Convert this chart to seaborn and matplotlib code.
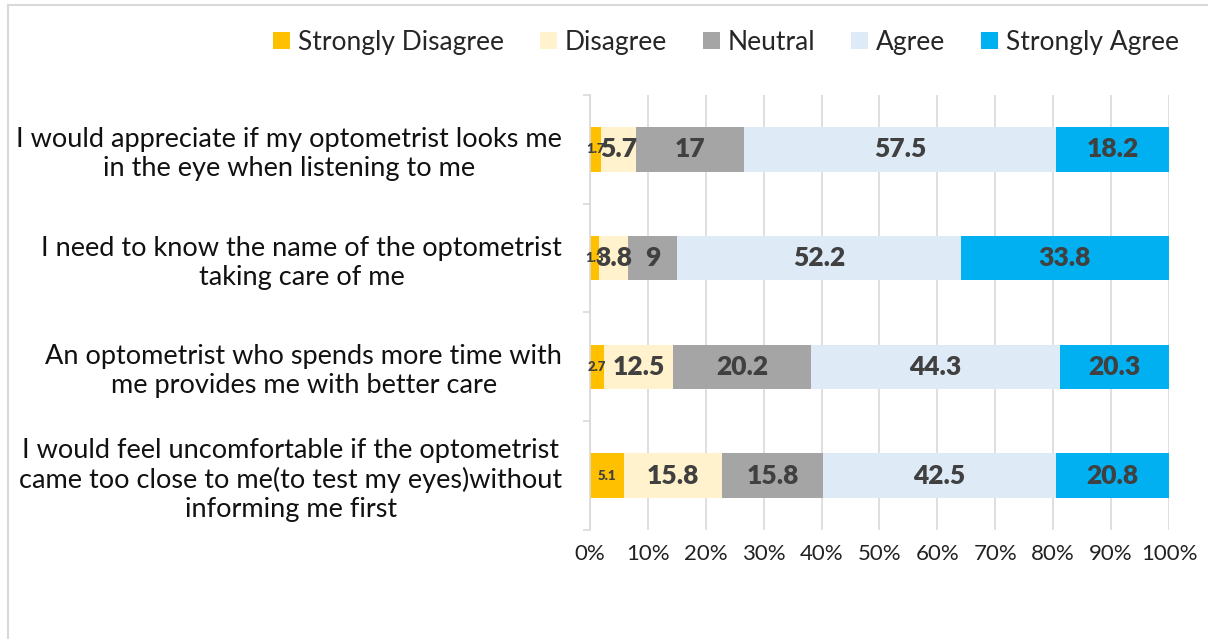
import matplotlib
matplotlib.use("Agg")
import matplotlib.pyplot as plt
from matplotlib.patches import Patch
from matplotlib.lines import Line2D
import numpy as np
import pandas as pd
import seaborn as sns

questions = [
    "I would appreciate if my optometrist looks me\nin the eye when listening to me",
    "I need to know the name of the optometrist\ntaking care of me",
    "An optometrist who spends more time with\nme provides me with better care",
    "I would feel uncomfortable if the optometrist\ncame too close to me(to test my eyes)without\ninforming me first",
]
levels = ["Strongly Disagree", "Disagree", "Neutral", "Agree", "Strongly Agree"]

# segment shares as drawn
strongly_disagree = [1.85, 1.5, 2.4, 5.8]
disagree = [6.15, 5.1, 12.0, 17.05]
neutral = [18.6, 8.5, 23.8, 17.4]
agree = [53.9, 48.9, 43.1, 40.25]
strongly_agree = [19.5, 36.0, 18.8, 19.5]

# data labels as printed on the bars
label_sd = ["1.7", "1.3", "2.7", "5.1"]
label_d = ["5.7", "3.8", "12.5", "15.8"]
label_n = ["17", "9", "20.2", "15.8"]
label_a = ["57.5", "52.2", "44.3", "42.5"]
label_sa = ["18.2", "33.8", "20.3", "20.8"]

colors = ["#FFC000", "#FFF2CC", "#A5A5A5", "#DEEBF7", "#00B0F0"]

sns.set_theme(style="white")
plt.rcParams['font.family'] = ['Lato', 'DejaVu Sans']

df = pd.DataFrame({"question": questions,
                   "Strongly Disagree": strongly_disagree, "Disagree": disagree,
                   "Neutral": neutral, "Agree": agree, "Strongly Agree": strongly_agree})
vals = df[levels].to_numpy(dtype=float)
pct = vals / vals.sum(axis=1, keepdims=True) * 100
cum = np.cumsum(pct, axis=1)
labels = [label_sd, label_d, label_n, label_a, label_sa]

fig = plt.figure(figsize=(12.08, 6.39), dpi=100)
ax = fig.add_axes([0.4884, 0.1706, 0.4793, 0.6808])

# draw cumulative bars from the widest down so they stack visually
for i in reversed(range(len(levels))):
    sns.barplot(x=cum[:, i], y=questions, color=colors[i], saturation=1,
                width=0.41, linewidth=0, orient="h", ax=ax, zorder=2)

for r in range(len(questions)):
    for i in range(len(levels)):
        start = cum[r, i] - pct[r, i]
        ax.text(start + pct[r, i] / 2, r, labels[i][r], ha="center", va="center",
                fontsize=9.5 if i == 0 else 19, fontweight="heavy", color="#404040", zorder=3)

ax.set_xlim(0, 100)
ax.set_xticks(np.arange(0, 101, 10))
ax.set_xticklabels([f"{t}%" for t in range(0, 101, 10)], fontsize=16, color="#222222")
ax.set_yticks(np.arange(-0.5, 4, 1), minor=True)
ax.tick_params(axis="y", which="major", labelsize=19.5, pad=20, length=0)
ax.tick_params(axis="y", which="minor", length=5, width=1.2, color="#D9D9D9", left=True)
ax.tick_params(axis="x", length=0, pad=10)
for lbl in ax.get_yticklabels():
    lbl.set_multialignment("center")
    lbl.set_color("#111111")
ax.xaxis.grid(True, color="#D9D9D9", linewidth=1.2, zorder=0)
ax.set_axisbelow(True)
for s in ax.spines.values():
    s.set_visible(False)
ax.spines["left"].set_visible(True)
ax.spines["left"].set_color("#D9D9D9")
ax.spines["left"].set_linewidth(1.2)
ax.set_xlabel("")
ax.set_ylabel("")

handles = [Patch(facecolor=c, edgecolor="none", label=l) for c, l in zip(colors, levels)]
fig.legend(handles=handles, loc="center", bbox_to_anchor=(0.601, 0.934), ncol=5,
           frameon=False, fontsize=19, handlelength=0.65, handleheight=0.65,
           handletextpad=0.3, columnspacing=1.35)

fig.add_artist(Line2D([8 / 1208, 8 / 1208], [0, 1 - 5 / 639], color="#D9D9D9", lw=1.5))
fig.add_artist(Line2D([8 / 1208, 1], [1 - 5 / 639, 1 - 5 / 639], color="#D9D9D9", lw=1.5))

fig.savefig("out.png", dpi=100)
